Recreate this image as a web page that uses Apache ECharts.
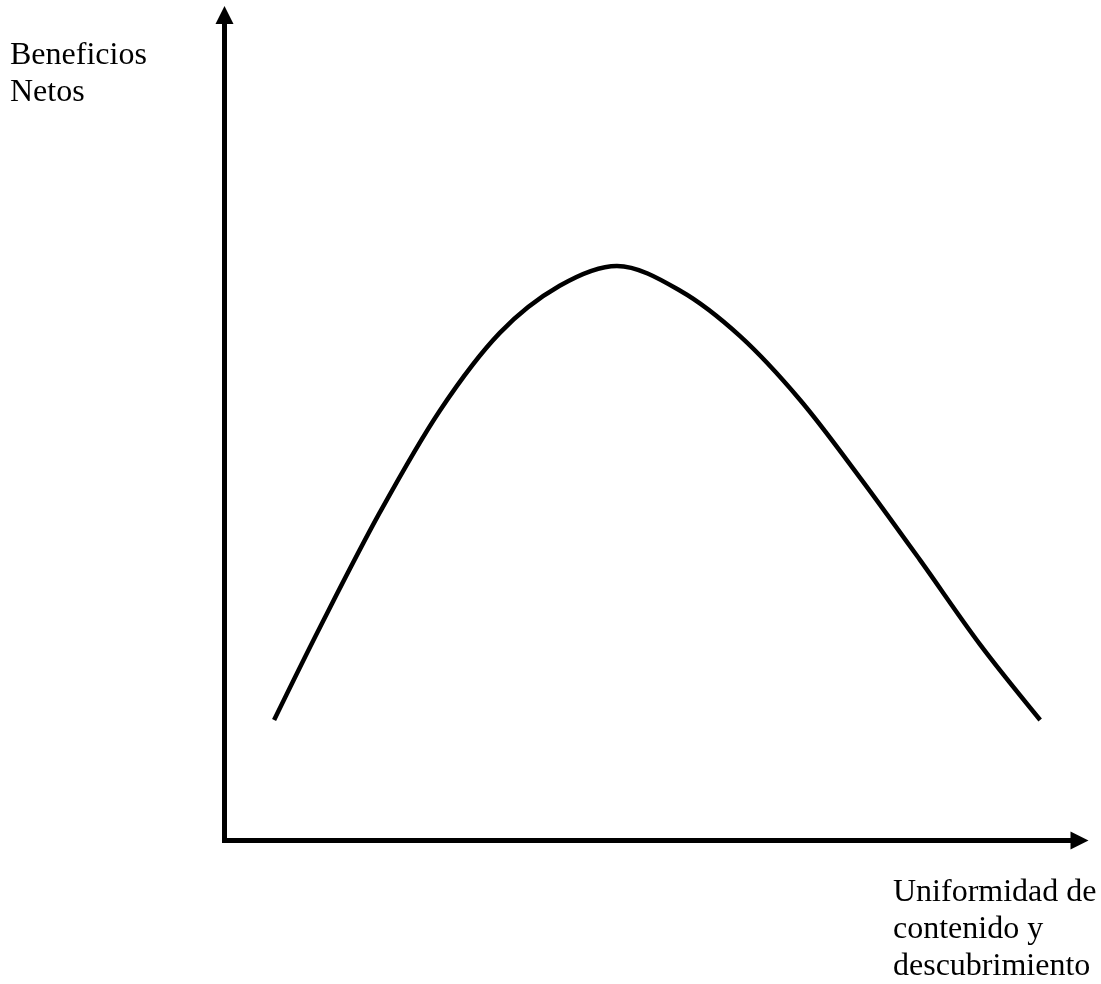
<!DOCTYPE html>
<html>
<head>
<meta charset="utf-8">
<script src="https://cdn.jsdelivr.net/npm/echarts@6/dist/echarts.min.js"></script>
<style>
html,body{margin:0;padding:0;background:#fff;}
#chart{width:1101px;height:984px;}
</style>
</head>
<body>
<div id="chart"></div>
<script>
// Data
const xValues = [5.8, 11.2, 18.2, 25.2, 32.2, 39.2, 45.9, 53.3, 60.3, 67.3, 74.3, 81.4, 88.4, 95.4];
const yValues = [14.6, 25.9, 39.8, 52.1, 61.5, 67.2, 69.6, 66.6, 61.1, 53.4, 44.0, 33.9, 23.7, 14.6];
const yAxisTitle = "Beneficios\nNetos";
const xAxisTitle = "Uniformidad de\ncontenido y\ndescubrimiento";

const FONT = '32px "Liberation Serif", "Times New Roman", serif';

const chart = echarts.init(document.getElementById('chart'), null, {renderer: 'canvas'});
const axisLineCfg = {
  show: true,
  onZero: false,
  symbol: ['none', 'triangle'],
  symbolSize: [18, 18],
  lineStyle: {color: '#000', width: 5, cap: 'square'}
};
chart.setOption({
  backgroundColor: '#fff',
  animation: false,
  grid: {left: 224.5, right: 21.5, top: 15, bottom: 143.5, containLabel: false},
  xAxis: {
    type: 'value', min: 0, max: 100,
    axisLine: axisLineCfg,
    axisTick: {show: false}, axisLabel: {show: false}, splitLine: {show: false}
  },
  yAxis: {
    type: 'value', min: 0, max: 100,
    axisLine: axisLineCfg,
    axisTick: {show: false}, axisLabel: {show: false}, splitLine: {show: false}
  },
  series: [{
    type: 'line',
    data: xValues.map((x, i) => [x, yValues[i]]),
    smooth: 0.33,
    showSymbol: false,
    lineStyle: {color: '#000', width: 4.5, join: 'round'},
    silent: true
  }],
  graphic: [
    {type: 'text', left: 10, top: 37, style: {text: yAxisTitle, font: FONT, fill: '#000', lineHeight: 37}},
    {type: 'text', left: 893, top: 874, style: {text: xAxisTitle, font: FONT, fill: '#000', lineHeight: 37}}
  ]
});
</script>
</body>
</html>
